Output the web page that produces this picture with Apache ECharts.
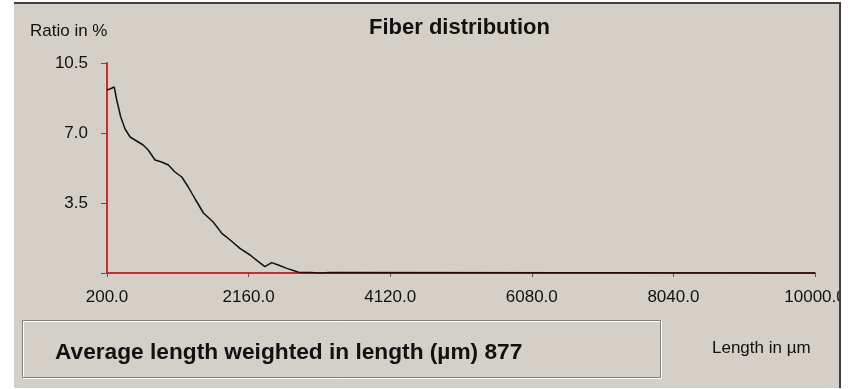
<!DOCTYPE html>
<html lang="en">
<head>
    <meta charset="UTF-8">
    <title>Fiber distribution</title>
    <script src="https://cdn.jsdelivr.net/npm/echarts@6/dist/echarts.min.js"></script>
    <style>
        html, body { margin: 0; padding: 0; background: #ffffff; }
        #main { width: 852px; height: 389px; }
    </style>
</head>
<body>
<div id="main"></div>

<script type="text/javascript">
    // fibre length in µm and ratio in %
    var lengths = [200, 240, 300, 335, 390, 450, 520, 610, 700, 770, 865, 955, 1050, 1140, 1235, 1325,
        1420, 1535, 1670, 1790, 1905, 2040, 2180, 2295, 2385, 2480, 2570, 2690, 2800, 2870, 3010,
        3150, 3290, 10000];
    var ratios = [9.15, 9.2, 9.3, 8.65, 7.8, 7.2, 6.8, 6.6, 6.4, 6.15, 5.65, 5.55, 5.4, 5.05, 4.8, 4.3,
        3.7, 3.0, 2.55, 1.98, 1.65, 1.23, 0.9, 0.57, 0.32, 0.52, 0.4, 0.23, 0.1, 0.02, 0.03,
        0.0, 0.02, 0];
    var xTicks = [200, 2160, 4120, 6080, 8040, 10000];
    var yTicks = [0, 3.5, 7.0, 10.5];
    var avgLength = 877;

    var font = '"Liberation Sans", Arial, sans-serif';
    var points = lengths.map(function (v, i) { return [v, ratios[i]]; });

    var myChart = echarts.init(document.getElementById('main'));

    var option = {
        backgroundColor: '#d4d0c8',
        animation: false,
        title: {
            text: 'Fiber distribution',
            left: 369,
            top: 17,
            padding: 0,
            textStyle: { fontFamily: font, fontSize: 22, fontWeight: 'bold', color: '#111' }
        },
        grid: { left: 107, right: 37, top: 63, bottom: 116 },
        xAxis: {
            type: 'value',
            min: 200,
            max: 10000,
            splitLine: { show: false },
            axisLine: { lineStyle: { color: '#cc2a2f', width: 2 } },
            axisTick: {
                customValues: xTicks,
                length: 4,
                lineStyle: { color: '#555', width: 1 }
            },
            axisLabel: {
                customValues: xTicks,
                margin: 16,
                fontFamily: font,
                fontSize: 17,
                color: '#111',
                formatter: function (v) { return v.toFixed(1); }
            }
        },
        yAxis: {
            type: 'value',
            min: yTicks[0],
            max: yTicks[yTicks.length - 1],
            interval: 3.5,
            splitLine: { show: false },
            axisLine: { show: true, lineStyle: { color: '#cc2a2f', width: 2 } },
            axisTick: { show: true, length: 6, lineStyle: { color: '#555', width: 1 } },
            axisLabel: {
                margin: 19,
                fontFamily: font,
                fontSize: 17,
                color: '#111',
                formatter: function (v) { return v === 0 ? '' : v.toFixed(1); }
            }
        },
        series: [{
            type: 'line',
            data: points,
            clip: false,
            showSymbol: false,
            lineStyle: { color: '#111', width: 1.5 },
            z: 5
        }],
        graphic: [
            // frame
            { type: 'rect', z: 100, shape: { x: 0, y: 0, width: 14, height: 389 }, style: { fill: '#fff' } },
            { type: 'rect', z: 100, shape: { x: 0, y: 0, width: 852, height: 2 }, style: { fill: '#fff' } },
            { type: 'rect', z: 100, shape: { x: 841, y: 0, width: 11, height: 389 }, style: { fill: '#fff' } },
            { type: 'rect', z: 100, shape: { x: 0, y: 388, width: 852, height: 1 }, style: { fill: '#fff' } },
            { type: 'rect', z: 101, shape: { x: 14, y: 2, width: 827, height: 2 }, style: { fill: '#404040' } },
            { type: 'rect', z: 101, shape: { x: 839, y: 2, width: 2, height: 386 }, style: { fill: '#404040' } },
            // texts
            {
                type: 'text', z: 100, x: 30, y: 31,
                style: { text: 'Ratio in %', fontFamily: font, fontSize: 17, fill: '#111', verticalAlign: 'middle' }
            },
            {
                type: 'text', z: 100, x: 712, y: 348,
                style: { text: 'Length in µm', fontFamily: font, fontSize: 17, fill: '#111', verticalAlign: 'middle' }
            },
            // result box
            {
                type: 'rect', z: 100, shape: { x: 23.5, y: 321.5, width: 638, height: 57 },
                style: { fill: 'none', stroke: '#ffffff', lineWidth: 1 }
            },
            {
                type: 'rect', z: 100, shape: { x: 22.5, y: 320.5, width: 638, height: 57 },
                style: { fill: 'none', stroke: '#808080', lineWidth: 1 }
            },
            {
                type: 'text', z: 100, x: 55, y: 353,
                style: {
                    text: 'Average length weighted in length (µm) ' + avgLength,
                    fontFamily: font, fontSize: 22.7, fontWeight: 'bold', fill: '#111', verticalAlign: 'middle'
                }
            }
        ]
    };

    myChart.setOption(option);
</script>
</body>
</html>
